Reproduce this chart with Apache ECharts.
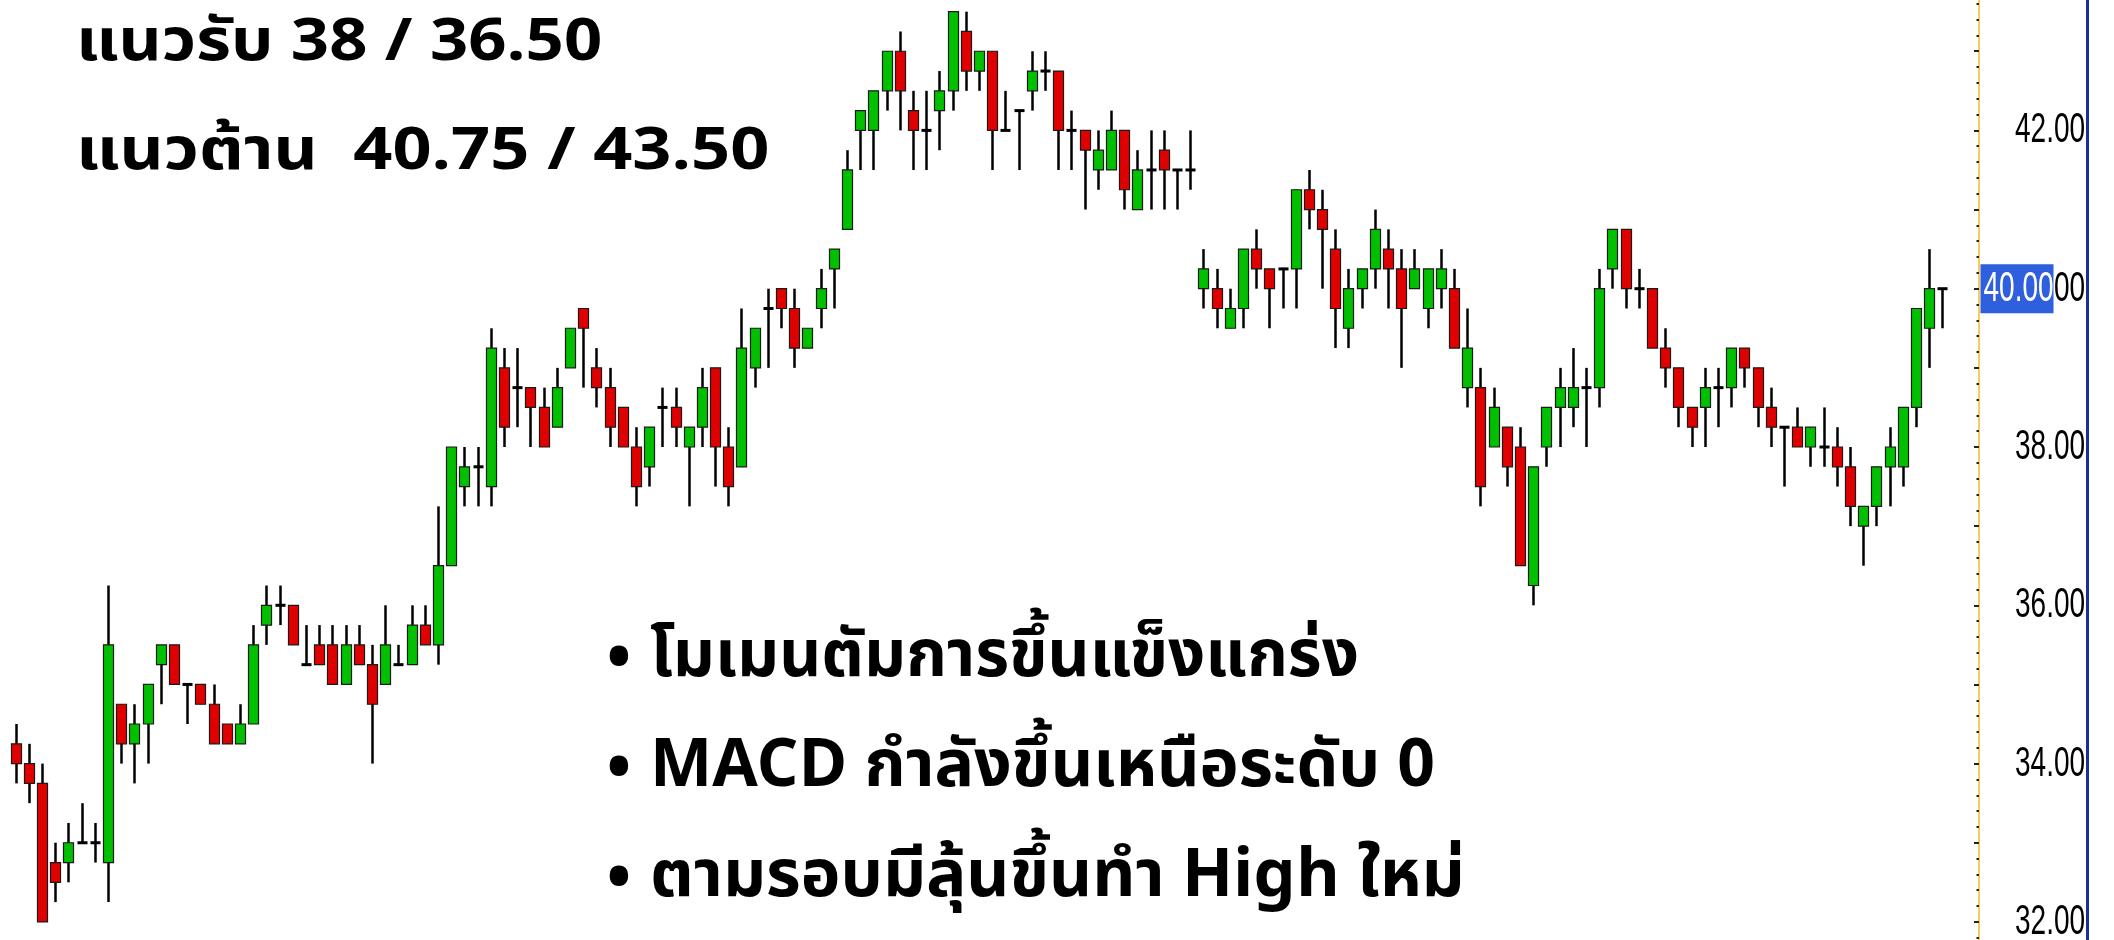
<!DOCTYPE html>
<html>
<head>
<meta charset="utf-8">
<script src="https://cdn.jsdelivr.net/npm/echarts@6/dist/echarts.min.js"></script>
<style>
html,body{margin:0;padding:0;background:#fff;}
#chart{width:2114px;height:940px;}
</style>
</head>
<body>
<div id="chart"></div>
<script>
// ---- data ----
var openPrices = [34.25,34.0,33.75,32.75,32.75,33.0,33.0,32.75,34.75,34.25,34.5,35.25,35.5,35.0,35.0,34.75,34.5,34.25,34.5,35.75,
36.0,36.0,35.25,35.5,35.5,35.0,35.5,35.25,35.0,35.25,35.25,35.75,35.5,36.5,37.5,37.75,37.5,39.0,38.75,38.75,
38.5,38.25,39.0,39.75,39.0,38.75,38.5,38.0,37.75,38.5,38.5,38.0,38.25,39.0,38.0,37.75,39.0,39.75,40.0,39.75,
39.25,39.75,40.25,40.75,42.0,42.0,42.5,43.0,42.25,42.0,42.25,42.5,43.25,42.75,43.0,42.0,42.25,42.5,42.75,42.75,
42.0,42.0,41.5,41.5,42.0,41.0,41.5,41.75,41.5,41.5,40.0,40.0,39.5,39.75,40.5,40.25,40.25,40.25,41.25,41.0,
40.5,39.5,40.0,40.25,40.5,40.25,40.0,39.75,40.0,40.0,38.75,38.75,38.0,38.25,38.0,36.25,38.0,38.5,38.5,38.75,
38.75,40.25,40.75,40.0,40.0,39.25,39.0,38.5,38.5,38.75,38.75,39.25,39.0,38.5,38.25,38.25,38.0,38.0,38.0,37.75,
37.0,37.25,37.75,37.75,38.5,39.5,40.0];
var highPrices = [34.5,34.25,34.0,33.0,33.25,33.5,33.25,36.25,34.75,34.75,35.0,35.5,35.5,35.0,35.0,35.0,34.5,34.75,35.75,36.25,
36.25,36.0,35.75,35.75,35.75,35.75,35.75,35.5,36.0,35.5,36.0,36.0,37.25,38.0,38.0,38.0,39.5,39.25,39.25,38.75,
38.75,39.0,39.5,39.75,39.25,39.0,38.5,38.25,38.25,38.75,38.75,38.25,39.0,39.0,38.25,39.75,39.5,40.0,40.0,40.0,
39.5,40.25,40.5,41.75,42.25,42.5,43.0,43.25,42.5,42.5,42.75,43.5,43.5,43.0,43.0,42.5,42.25,43.0,43.0,42.75,
42.25,42.0,42.0,42.25,42.0,41.75,42.0,42.0,41.5,42.0,40.5,40.25,40.0,40.5,40.75,40.25,40.25,41.25,41.5,41.25,
40.75,40.25,40.25,41.0,40.75,40.5,40.5,40.25,40.5,40.25,39.75,39.0,38.75,38.25,38.25,37.75,38.5,39.0,39.25,39.0,
40.25,40.75,40.75,40.25,40.0,39.5,39.0,38.5,39.0,39.0,39.25,39.25,39.0,38.75,38.25,38.5,38.25,38.5,38.25,38.0,
37.25,37.75,38.25,38.5,39.75,40.5,40.0];
var lowPrices = [33.75,33.5,32.0,32.25,32.5,33.0,32.75,32.25,34.0,33.75,34.0,34.75,35.0,34.5,34.75,34.25,34.25,34.25,34.5,35.5,
35.75,35.5,35.25,35.25,35.0,35.0,35.25,34.0,35.0,35.25,35.25,35.5,35.25,36.5,37.25,37.25,37.25,38.0,38.25,38.0,
38.0,38.25,39.0,38.75,38.5,38.0,38.0,37.25,37.5,38.0,38.0,37.25,38.0,37.5,37.25,37.75,38.75,39.0,39.5,39.0,
39.25,39.5,39.75,40.75,41.5,41.5,42.25,42.0,41.5,41.5,41.75,42.25,42.5,42.5,41.5,42.0,41.5,42.25,42.5,41.5,
41.5,41.0,41.25,41.5,41.0,41.0,41.0,41.0,41.0,41.25,39.75,39.5,39.5,39.5,40.0,39.5,39.75,39.75,40.75,40.0,
39.25,39.25,39.75,40.0,39.75,39.0,40.0,39.5,39.75,39.25,38.5,37.25,38.0,37.5,36.5,36.0,37.75,38.0,38.25,38.0,
38.5,40.0,39.75,39.75,39.25,38.75,38.25,38.0,38.0,38.25,38.5,38.75,38.25,38.0,37.5,38.0,37.75,37.75,37.5,37.0,
36.5,37.0,37.25,37.5,38.25,39.0,39.5];
var closePrices = [34.0,33.75,32.0,32.5,33.0,33.0,33.0,35.5,34.25,34.5,35.0,35.5,35.0,35.0,34.75,34.25,34.25,34.5,35.5,36.0,
36.0,35.5,35.25,35.25,35.0,35.5,35.25,34.75,35.5,35.25,35.75,35.5,36.5,38.0,37.75,37.75,39.25,38.25,38.75,38.5,
38.0,38.75,39.5,39.5,38.75,38.25,38.0,37.5,38.25,38.5,38.25,38.25,38.75,38.0,37.5,39.25,39.5,39.75,39.75,39.25,
39.5,40.0,40.5,41.5,42.25,42.5,43.0,42.5,42.0,42.0,42.5,43.5,42.75,43.0,42.0,42.0,42.25,42.75,42.75,42.0,
42.0,41.75,41.75,42.0,41.25,41.5,41.5,41.5,41.5,41.5,40.25,39.75,39.75,40.5,40.25,40.0,40.25,41.25,41.0,40.75,
39.75,40.0,40.25,40.75,40.25,39.75,40.25,40.25,40.25,39.25,39.25,37.5,38.5,37.75,36.5,37.75,38.5,38.75,38.75,38.75,
40.0,40.75,40.0,40.0,39.25,39.0,38.5,38.25,38.75,38.75,39.25,39.0,38.5,38.25,38.25,38.0,38.25,38.0,37.75,37.25,
37.25,37.75,38.0,38.5,39.75,40.0,40.0];

var yTickValues = [32, 34, 36, 38, 40, 42, 44];          // labelled price ticks
var yLabelText = ['32.00','34.00','36.00','38.00','40.00','42.00','44.00'];
var yMajorTicks = [32, 33, 34, 35, 36, 37, 38, 39, 40, 41, 42, 43];
var yMin = 31.7713, yMax = 43.6475;                     // visible price window
var supportText = 'แนวรับ 38 / 36.50';
var resistText = 'แนวต้าน  40.75 / 43.50';
var bulletTexts = ['โมเมนตัมการขึ้นแข็งแกร่ง', 'MACD กำลังขึ้นเหนือระดับ 0', 'ตามรอบมีลุ้นขึ้นทำ High ใหม่'];

// ---- build ----
var UP = '#00c000', DOWN = '#e00000';
var candleData = openPrices.map(function (o, i) {
  return [i, o, closePrices[i], lowPrices[i], highPrices[i]];
});
var lastClose = closePrices[closePrices.length - 1];
var yMinorTicks = [];
for (var k = Math.ceil(yMin * 5); k <= Math.floor(yMax * 5); k++) yMinorTicks.push(k / 5);

var thaiFont = "'Noto Sans Thai','Noto Sans Thai UI','Leelawadee UI','Noto Sans',sans-serif";
var axisFont = "'Liberation Sans',Arial,sans-serif";

function renderCandle(params, api) {
  var i = api.value(0), o = api.value(1), c = api.value(2), l = api.value(3), h = api.value(4);
  var pO = api.coord([i, o]), pC = api.coord([i, c]), pL = api.coord([i, l]), pH = api.coord([i, h]);
  var w = api.size([1, 0])[0] * 0.76;
  var x = Math.round(pO[0]) + 0.5;
  var children = [{
    type: 'line',
    shape: { x1: x, y1: pH[1], x2: x, y2: pL[1] },
    style: { stroke: '#000', lineWidth: 2.5 }
  }];
  if (o === c) {
    children.push({
      type: 'line',
      shape: { x1: x - w / 2, y1: pO[1], x2: x + w / 2, y2: pO[1] },
      style: { stroke: '#000', lineWidth: 3 }
    });
  } else {
    children.push({
      type: 'rect',
      shape: { x: x - w / 2, y: Math.min(pO[1], pC[1]), width: w, height: Math.abs(pO[1] - pC[1]) },
      style: { fill: c > o ? UP : DOWN, stroke: '#1a1a1a', lineWidth: 1.2 }
    });
  }
  return { type: 'group', children: children };
}

var chart = echarts.init(document.getElementById('chart'), null, { renderer: 'canvas' });
var GRID_RIGHT = 135;

chart.setOption({
  animation: false,
  backgroundColor: '#ffffff',
  grid: { left: 0, right: GRID_RIGHT, top: 0, bottom: 0, containLabel: false },
  xAxis: { type: 'value', min: -1.19, max: 148.78, show: false },
  yAxis: [{
    type: 'value', position: 'right', min: yMin, max: yMax,
    axisLine: { show: true, onZero: false, lineStyle: { color: '#f2cf5b', width: 2 } },
    axisTick: { show: true, inside: true, length: 2.5, customValues: yMinorTicks, lineStyle: { color: '#222', width: 2 } },
    splitLine: { show: false },
    axisLabel: { show: false }
  }, {
    type: 'value', position: 'right', min: yMin, max: yMax,
    axisLine: { show: false, onZero: false },
    axisTick: { show: true, inside: true, length: 5, customValues: yMajorTicks, lineStyle: { color: '#222', width: 2 } },
    splitLine: { show: false },
    axisLabel: { show: false }
  }],
  series: [{
    type: 'custom',
    renderItem: renderCandle,
    data: candleData,
    encode: { x: 0, y: [1, 2, 3, 4] },
    clip: false,
    silent: true
  }]
});

// ---- texts: price labels positioned through the y axis scale ----
var axisX = chart.getWidth() - GRID_RIGHT;
var graphics = [];
yTickValues.forEach(function (v, k) {
  var py = chart.convertToPixel({ yAxisIndex: 0 }, v);
  graphics.push({
    type: 'text', x: axisX + 36, y: py, scaleY: 1.55, z: 10,
    style: { text: yLabelText[k], font: '28px ' + axisFont, fill: '#000', textAlign: 'left', textVerticalAlign: 'middle' }
  });
});
var pyLast = chart.convertToPixel({ yAxisIndex: 0 }, lastClose);
graphics.push({
  type: 'group', x: axisX + 1.5, y: pyLast, z: 20,
  children: [
    { type: 'rect', shape: { x: 0, y: -24.5, width: 73, height: 49 }, style: { fill: '#2f5fdc' }, z: 20 },
    { type: 'text', x: 3, y: 0, scaleY: 1.55, z: 21,
      style: { text: lastClose.toFixed(2), font: '28px ' + axisFont, fill: '#fff', textAlign: 'left', textVerticalAlign: 'middle' } }
  ]
});
graphics.push({ type: 'line', shape: { x1: 2087.5, y1: 0, x2: 2087.5, y2: 940 }, style: { stroke: '#1d2f96', lineWidth: 3 }, z: 30 });

// ---- annotation texts ----
graphics.push({ type: 'text', x: 76, y: 48, scaleX: 1.135, z: 10,
  style: { text: supportText, font: 'bold 59px ' + thaiFont, fill: '#000', textAlign: 'left', textVerticalAlign: 'middle' } });
graphics.push({ type: 'text', x: 76, y: 157, scaleX: 1.16, z: 10,
  style: { text: resistText, font: 'bold 59px ' + thaiFont, fill: '#000', textAlign: 'left', textVerticalAlign: 'middle' } });
var bulletScale = [0.988, 1.0, 1.014];
bulletTexts.forEach(function (t, k) {
  var cy = 663 + k * 110;
  graphics.push({ type: 'text', x: 619, y: cy + 4, z: 10,
    style: { text: '•', font: 'bold 66px ' + thaiFont, fill: '#000', textAlign: 'center', textVerticalAlign: 'middle' } });
  graphics.push({ type: 'text', x: 650, y: cy, scaleX: bulletScale[k], z: 10,
    style: { text: t, font: 'bold 66px ' + thaiFont, fill: '#000', textAlign: 'left', textVerticalAlign: 'middle' } });
});

chart.setOption({ graphic: graphics });
</script>
</body>
</html>
